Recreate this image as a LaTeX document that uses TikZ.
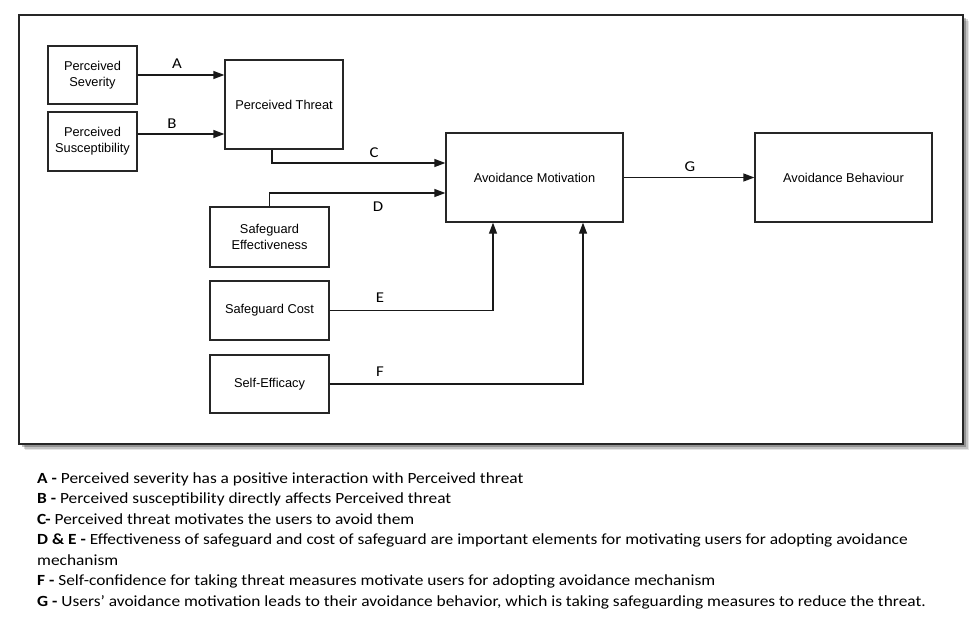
\documentclass[tikz,border=0pt]{standalone}
\usepackage{fontspec}
\setmainfont{Liberation Sans}
\newfontfamily\notefont[FakeStretch=1.12]{Carlito}
\usetikzlibrary{arrows.meta}

\begin{document}
\begin{tikzpicture}[x=1pt,y=-1pt,
  box/.style={draw=black!85,line width=1.3pt,align=center,inner sep=0pt,
    font=\fontsize{12.8}{16}\selectfont},
  link/.style={draw=black!90,line width=1.3pt,-{Triangle[length=11pt,width=8pt]}},
  lbl/.style={font=\notefont\fontsize{15}{16}\selectfont,inner sep=0pt},
  note/.style={anchor=base west,inner sep=0pt,align=left,
    font=\notefont\fontsize{15.5}{20.5}\selectfont}]
  \useasboundingbox (0,0) rectangle (980,618);
  % frame and its shadow
  \foreach \d/\o in {6/0.10,4.5/0.15,3/0.25}
    \fill[black,opacity=\o] (19+\d,15+\d) rectangle (963+\d,444+\d);
  \draw[black!85,line width=1.2pt,fill=white] (19,15) rectangle (963,444);
  % boxes
  \node[box,minimum width=89pt,minimum height=58pt] (sev) at (92.5,75) {Perceived\\Severity};
  \node[box,minimum width=89pt,minimum height=59pt] (sus) at (92.5,141.5) {Perceived\\Susceptibility};
  \node[box,minimum width=118pt,minimum height=89pt] (threat) at (284,104.5) {Perceived Threat};
  \node[box,minimum width=177pt,minimum height=89pt] (mot) at (534.5,177.5) {Avoidance Motivation};
  \node[box,minimum width=177pt,minimum height=89pt] (beh) at (843.5,177.5) {Avoidance Behaviour};
  \node[box,minimum width=119pt,minimum height=60pt] (eff) at (269.5,237) {Safeguard\\Effectiveness};
  \node[box,minimum width=119pt,minimum height=59pt] (cost) at (269.5,310.5) {Safeguard Cost};
  \node[box,minimum width=119pt,minimum height=58pt] (self) at (269.5,384) {Self-Efficacy};
  % links
  \draw[link] (sev.east) -- (threat.west |- sev.east);
  \draw[link] (sus.east |- 0,134) -- (threat.west |- 0,134);
  \draw[link] (threat.south -| 272,0) |- (mot.west |- 0,163);
  \draw[link] (eff.north) |- (mot.west |- 0,193);
  \draw[link] (cost.east) -| (mot.south -| 493,0);
  \draw[link] (self.east) -| (mot.south -| 583,0);
  \draw[link] (mot.east) -- (beh.west);
  % labels
  \node[lbl] (la) at (177,64) {A};
  \node[lbl] (lb) at (172,124) {B};
  \node[lbl] (lc) at (374,153) {C};
  \node[lbl] (ld) at (378,207) {D};
  \node[lbl] (le) at (380,298) {E};
  \node[lbl] (lf) at (380,372) {F};
  \node[lbl] (lg) at (690,167) {G};
  % legend
  \node[note] (na) at (37,483) {\textbf{A -} Perceived severity has a positive interaction with Perceived threat};
  \node[note] (nb) at (37,503) {\textbf{B -} Perceived susceptibility directly affects Perceived threat};
  \node[note] (nc) at (37,524) {\textbf{C-} Perceived threat motivates the users to avoid them};
  \node[note] (nd) at (37,565) {\textbf{D \& E -} Effectiveness of safeguard and cost of safeguard are important elements for motivating users for adopting avoidance\\mechanism};
  \node[note] (nf) at (37,585) {\textbf{F -} Self-confidence for taking threat measures motivate users for adopting avoidance mechanism};
  \node[note] (ng) at (37,606) {\textbf{G -} Users’ avoidance motivation leads to their avoidance behavior, which is taking safeguarding measures to reduce the threat.};
\end{tikzpicture}
\end{document}
